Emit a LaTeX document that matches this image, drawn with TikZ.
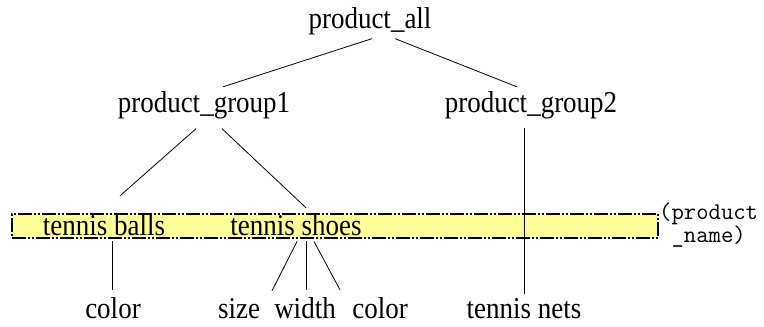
\documentclass[tikz,border=0pt]{standalone}
\usepackage{fontspec}
\setmainfont{Liberation Serif}
\usetikzlibrary{positioning}
\definecolor{bandyellow}{RGB}{255,255,153}
\newcommand{\tallword}[1]{\scalebox{1}[1.12]{#1}}
\tikzset{
    term/.style={inner sep=4pt,anchor=base,font=\fontsize{27}{30}\selectfont},
    remark/.style={inner sep=0pt,anchor=north west,align=left,font=\ttfamily\fontsize{24}{20}\selectfont},
    band/.style={draw,fill=bandyellow,line width=1.8pt,dash pattern=on 14pt off 2pt on 2pt off 2pt on 2pt off 2pt},
    link/.style={line width=0.8pt},
}

\begin{document}
\begin{tikzpicture}[x=1pt,y=-1pt]
		\useasboundingbox (0,0) rectangle (764,327);
		% the product_name band
		\node[band,anchor=north west,minimum width=646pt,minimum height=24pt,inner sep=0pt] (names) at (11,213) {};
		\node[remark] (note) at (659,203) {(product\\\phantom{(}\_name)};

		\node[term] (all)  at (370,28)  {\tallword{product\_all}};
		\node[term] (grp1) at (204,112) {\tallword{product\_group1}};
		\node[term] (grp2) at (531,112) {\tallword{product\_group2}};
		\node[term] (balls) at (104,235) {\tallword{tennis balls}};
		\node[term] (shoes) at (296,235) {\tallword{tennis shoes}};
		\node[term] (ballcolor) at (113,318) {\tallword{color}};
		\node[term] (size)      at (239,318) {\tallword{size}};
		\node[term] (width)     at (305,318) {\tallword{width}};
		\node[term] (shoecolor) at (380,318) {\tallword{color}};
		\node[term] (nets)      at (524,318) {\tallword{tennis nets}};

		\draw[link] ([xshift=2pt]all.south)  -- ([xshift=19pt]grp1.north);
		\draw[link] ([xshift=25pt]all.south) -- ([xshift=-14pt]grp2.north);
		\draw[link] ([xshift=-8pt,yshift=-6pt]grp1.south) -- ([xshift=16pt,yshift=14pt]balls.north);
		\draw[link] ([xshift=18pt,yshift=-6pt]grp1.south) -- ([xshift=10pt,yshift=2pt]shoes.north);
		\draw[link] ([xshift=-7pt,yshift=-5pt]grp2.south) -- (nets.north);
		\draw[link] ([xshift=8pt,yshift=-2pt]balls.south) -- ([xshift=-1pt,yshift=3pt]ballcolor.north);
		\draw[link] ([xshift=1pt,yshift=-2pt]shoes.south) -- ([xshift=33pt,yshift=3pt]size.north);
		\draw[link] ([xshift=10pt,yshift=-2pt]shoes.south) -- ([xshift=1pt,yshift=3pt]width.north);
		\draw[link] ([xshift=18pt,yshift=-2pt]shoes.south) -- ([xshift=-40pt,yshift=3pt]shoecolor.north);
	\end{tikzpicture}
\end{document}
